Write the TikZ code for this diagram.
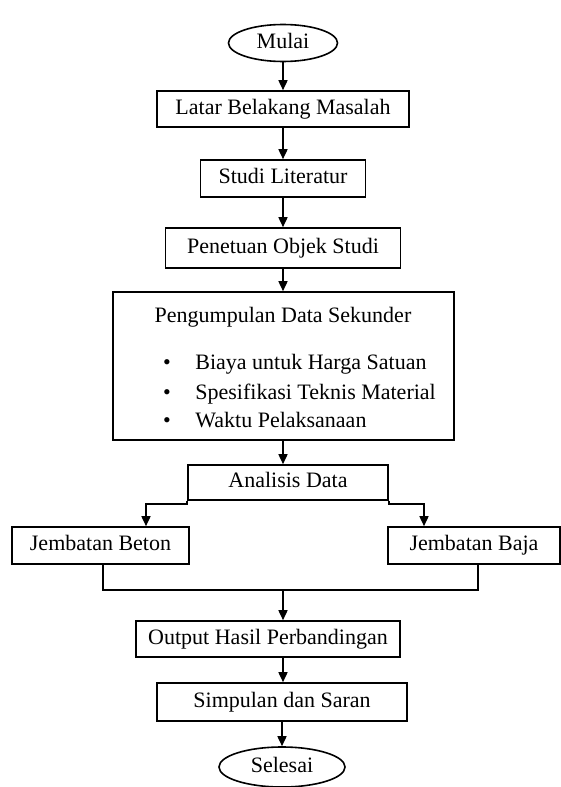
\documentclass[tikz,border=0pt]{standalone}
\usepackage{fontspec}
\setmainfont{Liberation Serif}
\usetikzlibrary{arrows.meta,shapes.geometric}

\begin{document}
\begin{tikzpicture}[
    x=0.5pt, y=-0.5pt,
    every node/.style={font=\fontsize{11}{13}\selectfont},
    bx/.style={rectangle, draw, line width=0.8pt, inner sep=0pt,
               text height=7.6pt, text depth=2.4pt},
    term/.style={ellipse, draw, line width=0.8pt, inner sep=0pt,
                 text height=7.6pt, text depth=2.4pt},
    e/.style={line width=0.8pt, -{Triangle[length=5pt, width=4.5pt]}},
    ln/.style={line width=0.8pt},
  ]
  \useasboundingbox (0,0) rectangle (561,787);
  \node[term, minimum width=54.5pt, minimum height=18.5pt] (mulai) at (283, 43) {Mulai};
  \node[bx, minimum width=126pt, minimum height=18pt] (latar) at (283, 109) {Latar Belakang Masalah};
  \node[bx, minimum width=82.5pt, minimum height=18.5pt] (studi) at (283, 178.5) {Studi Literatur};
  \node[bx, minimum width=117.5pt, minimum height=20pt] (objek) at (283, 248) {Penetuan Objek Studi};
  \node[bx, minimum width=170.5pt, minimum height=74pt] (data) at (283.5, 366) {};
  \node[anchor=base] (judul) at (283, 322) {Pengumpulan Data Sekunder};
  \node[anchor=base] (dot1) at (167, 369) {\textbullet};
  \node[anchor=base west, inner sep=0pt] (biaya) at (195, 369) {Biaya untuk Harga Satuan};
  \node[anchor=base] (dot2) at (167, 399) {\textbullet};
  \node[anchor=base west, inner sep=0pt] (spek) at (195, 399) {Spesifikasi Teknis Material};
  \node[anchor=base] (dot3) at (167, 427) {\textbullet};
  \node[anchor=base west, inner sep=0pt] (waktu) at (195, 427) {Waktu Pelaksanaan};
  \node[bx, minimum width=100pt, minimum height=17.5pt] (ana) at (288, 482.5) {Analisis Data};
  \node[bx, minimum width=88.5pt, minimum height=18.5pt] (beton) at (100.5, 545.5) {Jembatan Beton};
  \node[bx, minimum width=86pt, minimum height=18.5pt] (baja) at (474, 545.5) {Jembatan Baja};
  \node[bx, minimum width=132pt, minimum height=18pt] (hasil) at (268, 639) {Output Hasil Perbandingan};
  \node[bx, minimum width=125pt, minimum height=19pt] (simpulan) at (282, 702) {Simpulan dan Saran};
  \node[term, minimum width=63pt, minimum height=20pt] (selesai) at (282, 767) {Selesai};
  \coordinate (kiri) at (146, 504);
  \coordinate (kanan) at (424, 504);
  \coordinate (gabkiri) at (103, 590);
  \coordinate (gabkanan) at (478, 590);
  \coordinate (gabung) at (283, 590);
  \draw[e] (mulai) -- (latar);
  \draw[e] (latar) -- (studi);
  \draw[e] (studi) -- (objek);
  \draw[e] (objek.south) -- (objek.south |- data.north);
  \draw[e] (gabung |- data.south) -- (gabung |- ana.north);
  \draw[e] (ana.south west) |- (kiri) -- (kiri |- beton.north);
  \draw[e] (ana.south east) |- (kanan) -- (kanan |- baja.north);
  \draw[ln] (gabkiri |- beton.south) -- (gabkiri) -- (gabkanan) -- (gabkanan |- baja.south);
  \draw[e] (gabung) -- (gabung |- hasil.north);
  \draw[e] (gabung |- hasil.south) -- (gabung |- simpulan.north);
  \draw[e] (simpulan) -- (selesai);
\end{tikzpicture}
\end{document}
